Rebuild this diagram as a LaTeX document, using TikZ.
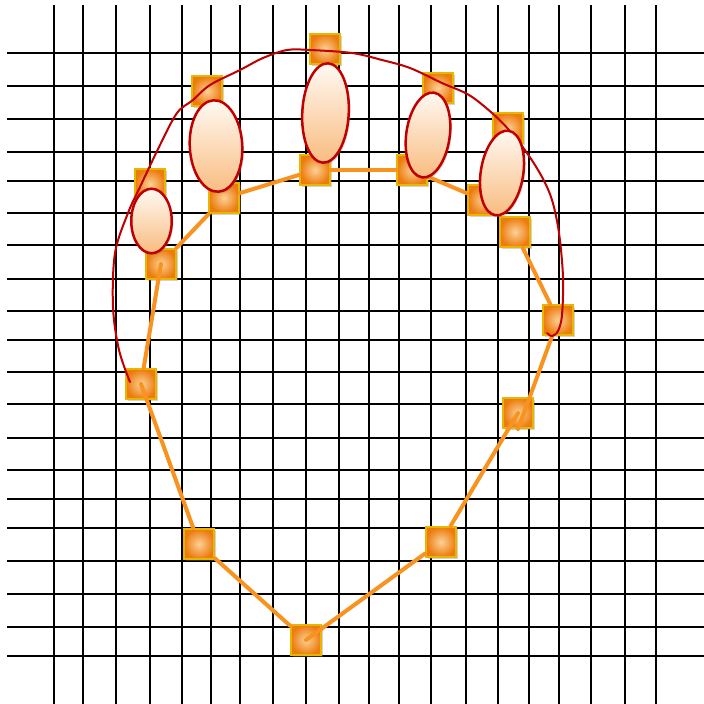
\documentclass[tikz,border=0pt]{standalone}
\usetikzlibrary{shapes.geometric,shadows}
\definecolor{orline}{RGB}{247,147,30}
\definecolor{sqin}{RGB}{253,208,150}
\definecolor{sqout}{RGB}{236,124,14}
\definecolor{sqedge}{RGB}{232,182,0}
\definecolor{redc}{RGB}{192,0,0}
\definecolor{eltop}{RGB}{255,249,243}
\definecolor{elbot}{RGB}{249,188,128}
\begin{document}
\begin{tikzpicture}[x=1pt,y=-1pt,
  gridline/.style={line width=2.4pt, black},
  sq/.style={draw=sqedge, line width=2pt, inner color=sqin, outer color=sqout,
    minimum size=30pt, inner sep=0pt,
    drop shadow={shadow xshift=1.5pt, shadow yshift=-2pt, opacity=0.35}},
  ell/.style={ellipse, draw=redc, line width=2.5pt, top color=eltop, bottom color=elbot,
    inner sep=0pt,
    drop shadow={shadow xshift=1.5pt, shadow yshift=-2pt, opacity=0.3}},
  conn/.style={orline, line width=4pt, line cap=round},
  curve/.style={redc, line width=2pt, line cap=round, line join=round}]
\useasboundingbox (0,0) rectangle (704,704);
% grid
\foreach \x in {54,83,116,150,182,211,240,273,306,339,369,399,431,466,498,529,559,591,625,656}
  \draw[gridline] (\x,5) -- (\x,704);
\foreach \y in {53,86,119,152,181,213,245,279,311,340,372,404,438,470,499,528,561,594,627,656}
  \draw[gridline] (7,\y) -- (704,\y);
% squares
\node[sq] (A) at (325,49) {};
\node[sq] (B) at (207,91) {};
\node[sq] (C) at (150,184) {};
\node[sq] (D) at (224,198) {};
\node[sq] (E) at (315,170) {};
\node[sq] (F) at (161,264) {};
\node[sq] (G) at (438,88) {};
\node[sq] (H) at (412,170) {};
\node[sq] (I) at (508,128) {};
\node[sq] (J) at (483,200) {};
\node[sq] (K) at (515,232) {};
\node[sq] (L) at (558,320) {};
\node[sq] (M) at (141,384) {};
\node[sq] (N) at (199,544) {};
\node[sq] (O) at (306,640) {};
\node[sq] (P) at (441,542) {};
\node[sq] (Q) at (518,413) {};
% orange connectors
\draw[conn] (O) -- (N);
\draw[conn] (N) -- (M.center);
\draw[conn] (M) -- (F.center);
\draw[conn] (F) -- (D);
\draw[conn] (D) -- (E);
\draw[conn] (E) -- (H);
\draw[conn] (H) -- (J);
\draw[conn] (K) -- (L);
\draw[conn] (L) -- (Q.south);
\draw[conn] (Q.center) -- (P);
\draw[conn] (P) -- (O.center);
% red curve
\draw[curve] plot[smooth, tension=0.55] coordinates {
  (130,382) (119,350) (113,307) (115,253) (128,213) (140,187) (160,145)
  (177,113) (193,100) (210,85) (240,70) (263,58) (287,50) (310,50) (352,53)
  (382,60) (410,68) (442,83) (469,95) (492,113) (509,130) (527,153) (542,177)
  (552,200) (559,233) (563,277) (562,315) (558,331) (552,336) (547,333)};
% ellipses
\node[ell, minimum width=40.5pt, minimum height=64.5pt] (e1) at (151.5,221) {};
\node[ell, minimum width=52.5pt, minimum height=91.5pt, rotate=3] (e2) at (216,146) {};
\node[ell, minimum width=46.5pt, minimum height=99.5pt, rotate=-3] (e3) at (325.5,113) {};
\node[ell, minimum width=43.5pt, minimum height=85.5pt, rotate=-8] (e4) at (428,135) {};
\node[ell, minimum width=42.5pt, minimum height=85.5pt, rotate=-9] (e5) at (502,173) {};
\end{tikzpicture}
\end{document}
